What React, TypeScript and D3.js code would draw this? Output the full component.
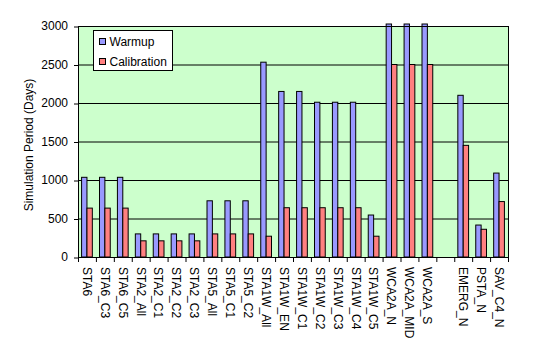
import React, { useRef, useEffect } from 'react';
import * as d3 from 'd3';

const categories = [
    'STA6', 'STA6_C3', 'STA6_C5', 'STA2_All', 'STA2_C1', 'STA2_C2', 'STA2_C3',
    'STA5_All', 'STA5_C1', 'STA5_C2', 'STA1W_All', 'STA1W_EN', 'STA1W_C1', 'STA1W_C2',
    'STA1W_C3', 'STA1W_C4', 'STA1W_C5', 'WCA2A_N', 'WCA2A_MID', 'WCA2A_S', '',
    'EMERG_N', 'PSTA_N', 'SAV_C4_N'
];
// null = no bar (empty slot between groups)
const warmup = [1035, 1035, 1035, 300, 300, 300, 300, 730, 730, 730, 2530, 2150, 2150, 2010,
    2010, 2010, 545, 3650, 3650, 3650, null, 2100, 415, 1090];
const calibration = [635, 635, 635, 210, 210, 210, 210, 300, 300, 300, 270, 640, 640, 640,
    640, 640, 270, 2500, 2500, 2500, null, 1450, 360, 720];
const yTicks = [0, 500, 1000, 1500, 2000, 2500, 3000];
const seriesNames = ['Warmup', 'Calibration'];
const seriesColors = ['#9999FF', '#FF8080'];

const FONT = 'Arial, "Liberation Sans", sans-serif';

export default function App() {
    const svgRef = useRef<SVGSVGElement>(null);

    useEffect(() => {
        if (!svgRef.current) return;
        const svg = d3.select(svgRef.current);
        svg.selectAll('*').remove();

        const margin = { top: 26, left: 78, right: 26, bottom: 96 };
        const W = 534, H = 353;
        const innerW = W - margin.left - margin.right;
        const innerH = H - margin.top - margin.bottom;

        const g = svg.append('g').attr('transform', `translate(${margin.left},${margin.top})`);

        const x = d3.scaleBand<number>().domain(d3.range(categories.length)).range([0, innerW]).padding(0);
        const y = d3.scaleLinear().domain([0, 3000]).range([innerH, 0]);

        // plot area background
        g.append('rect').attr('width', innerW).attr('height', innerH).attr('fill', '#CCFFCC');

        // gridlines
        g.selectAll('.grid').data(yTicks.slice(1)).enter().append('line')
            .attr('x1', 0).attr('x2', innerW)
            .attr('y1', d => y(d) + 0.5).attr('y2', d => y(d) + 0.5)
            .attr('stroke', '#000').attr('stroke-width', 1);

        // bars
        const barW = x.bandwidth() * 0.3;
        const groupOffset = (x.bandwidth() - 2 * barW) / 2;
        const series = [warmup, calibration];
        series.forEach((vals, si) => {
            g.selectAll(`.bar${si}`)
                .data(vals.map((v, i) => ({ v, i })).filter(d => d.v != null))
                .enter().append('rect')
                .attr('x', d => x(d.i)! + groupOffset + si * barW)
                .attr('width', barW)
                .attr('y', d => (d.v! > 3000 ? y(3000) - 2 : y(d.v!)))
                .attr('height', d => innerH - (d.v! > 3000 ? y(3000) - 2 : y(d.v!)))
                .attr('fill', seriesColors[si])
                .attr('stroke', '#000').attr('stroke-width', 1);
        });

        // plot border
        g.append('rect').attr('x', 0.5).attr('y', 0.5)
            .attr('width', innerW).attr('height', innerH)
            .attr('fill', 'none').attr('stroke', '#000').attr('stroke-width', 1);

        // y axis
        const yAxis = g.append('g')
            .call(d3.axisLeft(y).tickValues(yTicks).tickFormat(d3.format('d')).tickSize(4).tickPadding(6));
        yAxis.select('.domain').remove();
        yAxis.selectAll('line').attr('stroke', '#000').attr('transform', 'translate(0,0.5)');
        yAxis.selectAll('text').style('font-family', FONT).style('font-size', '12px').attr('fill', '#000');

        // x axis ticks at category boundaries
        const xAxis = g.append('g').attr('transform', `translate(0,${innerH})`);
        xAxis.selectAll('line').data(d3.range(categories.length + 1)).enter().append('line')
            .attr('x1', i => (i < categories.length ? x(i)! : innerW) + 0.5)
            .attr('x2', i => (i < categories.length ? x(i)! : innerW) + 0.5)
            .attr('y1', 0).attr('y2', 5)
            .attr('stroke', '#000');
        xAxis.selectAll('text').data(categories).enter().append('text')
            .attr('transform', (_, i) => `translate(${x(i)! + x.bandwidth() / 2},10) rotate(90)`)
            .attr('dy', '0.35em')
            .attr('text-anchor', 'start')
            .style('font-family', FONT).style('font-size', '12px').attr('fill', '#000')
            .text(d => d);

        // y axis title
        svg.append('text')
            .attr('transform', `translate(33,145) rotate(-90)`)
            .attr('text-anchor', 'middle')
            .style('font-family', FONT).style('font-size', '12px').attr('fill', '#000')
            .text('Simulation Period (Days)');

        // legend
        const lg = svg.append('g').attr('transform', 'translate(93.5,30.5)');
        lg.append('rect').attr('width', 79).attr('height', 40)
            .attr('fill', '#fff').attr('stroke', '#000');
        seriesNames.forEach((name, i) => {
            lg.append('rect').attr('x', 6).attr('y', 8 + i * 20).attr('width', 6).attr('height', 6)
                .attr('fill', seriesColors[i]).attr('stroke', '#000');
            lg.append('text').attr('x', 16).attr('y', 15.5 + i * 20)
                .style('font-family', FONT).style('font-size', '12px').attr('fill', '#000')
                .text(name);
        });
    }, []);

    return (
        <svg ref={svgRef} width={534} height={353}
            style={{ position: 'absolute', left: 0, top: 0, background: '#fff' }} />
    );
}
